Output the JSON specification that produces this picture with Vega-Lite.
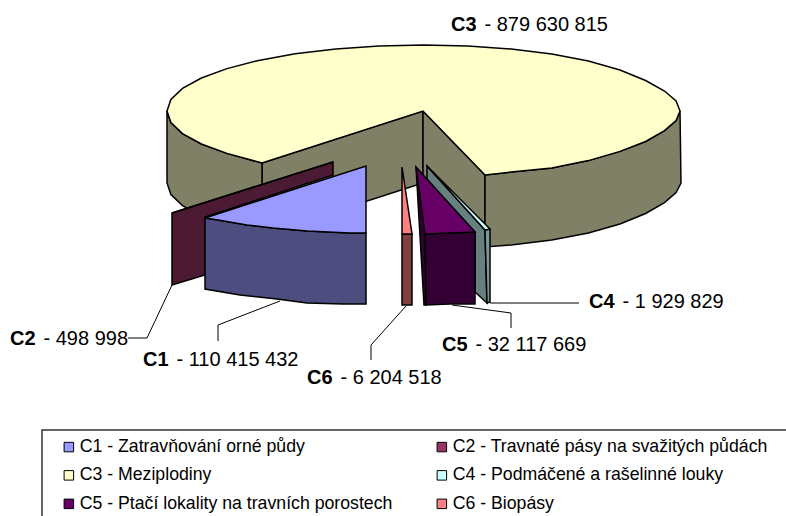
{
"$schema":"https://vega.github.io/schema/vega-lite/v6.json",
"width":786,"height":516,"padding":0,"autosize":{"type":"none"},
"background":"white",
"config":{"view":{"stroke":null}},
"encoding":{
 "x":{"field":"x","type":"quantitative","scale":{"domain":[0,786],"nice":false,"zero":false},"axis":null},
 "y":{"field":"y","type":"quantitative","scale":{"domain":[0,516],"reverse":true,"nice":false,"zero":false},"axis":null}
},
"datasets":{
"sides":[
{"p":"w1","h":"#808066","o":1,"x":262,"y":163},{"p":"w1","h":"#808066","o":2,"x":423,"y":111},{"p":"w1","h":"#808066","o":3,"x":423,"y":183},{"p":"w1","h":"#808066","o":4,"x":262,"y":235},
{"p":"w2","h":"#808066","o":1,"x":423,"y":111},{"p":"w2","h":"#808066","o":2,"x":485,"y":175},{"p":"w2","h":"#808066","o":3,"x":485,"y":247},{"p":"w2","h":"#808066","o":4,"x":423,"y":183},
{"p":"r","h":"#808066","o":1,"x":485,"y":175},{"p":"r","h":"#808066","o":2,"x":511.2,"y":172},{"p":"r","h":"#808066","o":3,"x":551.8,"y":168},{"p":"r","h":"#808066","o":4,"x":588.4,"y":160.6},{"p":"r","h":"#808066","o":5,"x":620,"y":151.4},{"p":"r","h":"#808066","o":6,"x":645.6,"y":141.5},{"p":"r","h":"#808066","o":7,"x":664.5,"y":130.6},{"p":"r","h":"#808066","o":8,"x":676.1,"y":120.5},{"p":"r","h":"#808066","o":9,"x":680,"y":111},{"p":"r","h":"#808066","o":10,"x":681,"y":183},{"p":"r","h":"#808066","o":11,"x":676.1,"y":192.5},{"p":"r","h":"#808066","o":12,"x":664.5,"y":202.6},{"p":"r","h":"#808066","o":13,"x":645.6,"y":213.5},{"p":"r","h":"#808066","o":14,"x":620,"y":224},{"p":"r","h":"#808066","o":15,"x":588.4,"y":233},{"p":"r","h":"#808066","o":16,"x":551.8,"y":240},{"p":"r","h":"#808066","o":17,"x":511.2,"y":245},{"p":"r","h":"#808066","o":18,"x":485,"y":247},
{"p":"l","h":"#808066","o":1,"x":167,"y":111},{"p":"l","h":"#808066","o":2,"x":170.9,"y":122.5},{"p":"l","h":"#808066","o":3,"x":182.5,"y":133.6},{"p":"l","h":"#808066","o":4,"x":201.4,"y":144},{"p":"l","h":"#808066","o":5,"x":227,"y":153.4},{"p":"l","h":"#808066","o":6,"x":262,"y":163},{"p":"l","h":"#808066","o":7,"x":262,"y":235},{"p":"l","h":"#808066","o":8,"x":227,"y":225.4},{"p":"l","h":"#808066","o":9,"x":201.4,"y":216},{"p":"l","h":"#808066","o":10,"x":182.5,"y":205.6},{"p":"l","h":"#808066","o":11,"x":170.9,"y":194.5},{"p":"l","h":"#808066","o":12,"x":167,"y":183},
{"p":"c2","h":"#4D1A33","o":1,"x":172,"y":213},{"p":"c2","h":"#4D1A33","o":2,"x":333,"y":162},{"p":"c2","h":"#4D1A33","o":3,"x":333,"y":175},{"p":"c2","h":"#4D1A33","o":4,"x":205,"y":217},{"p":"c2","h":"#4D1A33","o":5,"x":205,"y":275},{"p":"c2","h":"#4D1A33","o":6,"x":172,"y":285},
{"p":"c1","h":"#4D4D80","o":1,"x":205,"y":218},{"p":"c1","h":"#4D4D80","o":2,"x":218,"y":220},{"p":"c1","h":"#4D4D80","o":3,"x":247,"y":225},{"p":"c1","h":"#4D4D80","o":4,"x":273,"y":228},{"p":"c1","h":"#4D4D80","o":5,"x":307,"y":231},{"p":"c1","h":"#4D4D80","o":6,"x":350,"y":233},{"p":"c1","h":"#4D4D80","o":7,"x":366,"y":233},{"p":"c1","h":"#4D4D80","o":8,"x":366,"y":304},{"p":"c1","h":"#4D4D80","o":9,"x":343,"y":304},{"p":"c1","h":"#4D4D80","o":10,"x":307,"y":303},{"p":"c1","h":"#4D4D80","o":11,"x":277,"y":299},{"p":"c1","h":"#4D4D80","o":12,"x":240,"y":295},{"p":"c1","h":"#4D4D80","o":13,"x":205,"y":289},
{"p":"c4a","h":"#668080","o":1,"x":427,"y":166},{"p":"c4a","h":"#668080","o":2,"x":485,"y":230},{"p":"c4a","h":"#668080","o":3,"x":487,"y":303},{"p":"c4a","h":"#668080","o":4,"x":475,"y":292},{"p":"c4a","h":"#668080","o":5,"x":475,"y":232},{"p":"c4a","h":"#668080","o":6,"x":427,"y":180},
{"p":"c4b","h":"#7A9A9A","o":1,"x":485,"y":230},{"p":"c4b","h":"#7A9A9A","o":2,"x":490,"y":229},{"p":"c4b","h":"#7A9A9A","o":3,"x":490,"y":302},{"p":"c4b","h":"#7A9A9A","o":4,"x":487,"y":303},
{"p":"c5a","h":"#330033","o":1,"x":416,"y":167},{"p":"c5a","h":"#330033","o":2,"x":425,"y":234},{"p":"c5a","h":"#330033","o":3,"x":426,"y":305},{"p":"c5a","h":"#330033","o":4,"x":424,"y":305},
{"p":"c5b","h":"#330033","o":1,"x":425,"y":234},{"p":"c5b","h":"#330033","o":2,"x":475,"y":232},{"p":"c5b","h":"#330033","o":3,"x":475,"y":304},{"p":"c5b","h":"#330033","o":4,"x":450,"y":304},{"p":"c5b","h":"#330033","o":5,"x":426,"y":305},
{"p":"c6","h":"#804040","o":1,"x":402,"y":234},{"p":"c6","h":"#804040","o":2,"x":412,"y":234},{"p":"c6","h":"#804040","o":3,"x":412,"y":305},{"p":"c6","h":"#804040","o":4,"x":402,"y":305}
],
"tops":[
{"p":"C3","s":"C3 - Meziplodiny","o":1,"x":680,"y":111},{"p":"C3","s":"C3 - Meziplodiny","o":2,"x":676.1,"y":101},{"p":"C3","s":"C3 - Meziplodiny","o":3,"x":664.5,"y":91},{"p":"C3","s":"C3 - Meziplodiny","o":4,"x":645.6,"y":80.5},{"p":"C3","s":"C3 - Meziplodiny","o":5,"x":620,"y":70},{"p":"C3","s":"C3 - Meziplodiny","o":6,"x":588.4,"y":61},{"p":"C3","s":"C3 - Meziplodiny","o":7,"x":551.8,"y":54},{"p":"C3","s":"C3 - Meziplodiny","o":8,"x":511.2,"y":49},{"p":"C3","s":"C3 - Meziplodiny","o":9,"x":468,"y":46},{"p":"C3","s":"C3 - Meziplodiny","o":10,"x":423.5,"y":45},{"p":"C3","s":"C3 - Meziplodiny","o":11,"x":379,"y":46},{"p":"C3","s":"C3 - Meziplodiny","o":12,"x":335.8,"y":49},{"p":"C3","s":"C3 - Meziplodiny","o":13,"x":295.2,"y":53.8},{"p":"C3","s":"C3 - Meziplodiny","o":14,"x":258.6,"y":60.4},{"p":"C3","s":"C3 - Meziplodiny","o":15,"x":227,"y":68.6},{"p":"C3","s":"C3 - Meziplodiny","o":16,"x":201.4,"y":78},{"p":"C3","s":"C3 - Meziplodiny","o":17,"x":182.5,"y":88.4},{"p":"C3","s":"C3 - Meziplodiny","o":18,"x":170.9,"y":99.5},{"p":"C3","s":"C3 - Meziplodiny","o":19,"x":167,"y":111},{"p":"C3","s":"C3 - Meziplodiny","o":20,"x":170.9,"y":122.5},{"p":"C3","s":"C3 - Meziplodiny","o":21,"x":182.5,"y":133.6},{"p":"C3","s":"C3 - Meziplodiny","o":22,"x":201.4,"y":144},{"p":"C3","s":"C3 - Meziplodiny","o":23,"x":227,"y":153.4},{"p":"C3","s":"C3 - Meziplodiny","o":24,"x":262,"y":163},{"p":"C3","s":"C3 - Meziplodiny","o":25,"x":423,"y":111},{"p":"C3","s":"C3 - Meziplodiny","o":26,"x":485,"y":175},{"p":"C3","s":"C3 - Meziplodiny","o":27,"x":511.2,"y":172},{"p":"C3","s":"C3 - Meziplodiny","o":28,"x":551.8,"y":168},{"p":"C3","s":"C3 - Meziplodiny","o":29,"x":588.4,"y":160.6},{"p":"C3","s":"C3 - Meziplodiny","o":30,"x":620,"y":151.4},{"p":"C3","s":"C3 - Meziplodiny","o":31,"x":645.6,"y":141.5},{"p":"C3","s":"C3 - Meziplodiny","o":32,"x":664.5,"y":130.6},{"p":"C3","s":"C3 - Meziplodiny","o":33,"x":676.1,"y":120.5},
{"p":"C2","s":"C2 - Travnaté pásy na svažitých půdách","o":1,"x":172,"y":213},{"p":"C2","s":"C2 - Travnaté pásy na svažitých půdách","o":2,"x":333,"y":162},
{"p":"C1","s":"C1 - Zatravňování orné půdy","o":1,"x":205,"y":218},{"p":"C1","s":"C1 - Zatravňování orné půdy","o":2,"x":366,"y":166},{"p":"C1","s":"C1 - Zatravňování orné půdy","o":3,"x":366,"y":233},{"p":"C1","s":"C1 - Zatravňování orné půdy","o":4,"x":350,"y":233},{"p":"C1","s":"C1 - Zatravňování orné půdy","o":5,"x":307,"y":231},{"p":"C1","s":"C1 - Zatravňování orné půdy","o":6,"x":273,"y":228},{"p":"C1","s":"C1 - Zatravňování orné půdy","o":7,"x":247,"y":225},{"p":"C1","s":"C1 - Zatravňování orné půdy","o":8,"x":218,"y":220},
{"p":"C4","s":"C4 - Podmáčené a rašelinné louky","o":1,"x":427,"y":166},{"p":"C4","s":"C4 - Podmáčené a rašelinné louky","o":2,"x":490,"y":229},{"p":"C4","s":"C4 - Podmáčené a rašelinné louky","o":3,"x":485,"y":230},
{"p":"C5","s":"C5 - Ptačí lokality na travních porostech","o":1,"x":416,"y":167},{"p":"C5","s":"C5 - Ptačí lokality na travních porostech","o":2,"x":475,"y":232},{"p":"C5","s":"C5 - Ptačí lokality na travních porostech","o":3,"x":425,"y":234},
{"p":"C6","s":"C6 - Biopásy","o":1,"x":402,"y":167},{"p":"C6","s":"C6 - Biopásy","o":2,"x":412,"y":234},{"p":"C6","s":"C6 - Biopásy","o":3,"x":402,"y":234}
],
"leaders":[
{"p":"C2","o":1,"x":128,"y":338},{"p":"C2","o":2,"x":147,"y":338},{"p":"C2","o":3,"x":172,"y":285},
{"p":"C1","o":1,"x":218,"y":341},{"p":"C1","o":2,"x":218,"y":325},{"p":"C1","o":3,"x":280,"y":301},
{"p":"C6","o":1,"x":371,"y":360},{"p":"C6","o":2,"x":371,"y":345},{"p":"C6","o":3,"x":406,"y":306},
{"p":"C5","o":1,"x":511,"y":328},{"p":"C5","o":2,"x":511,"y":313},{"p":"C5","o":3,"x":452,"y":305},
{"p":"C4","o":1,"x":579,"y":303},{"p":"C4","o":2,"x":490,"y":303}
],
"frame":[
{"o":1,"x":42,"y":516},{"o":2,"x":42,"y":430},{"o":3,"x":786,"y":430}
],
"boldLabels":[
{"t":"C3","x":451,"y":25},{"t":"C4","x":589,"y":302},{"t":"C5","x":442,"y":345},{"t":"C2","x":10,"y":339},{"t":"C1","x":143,"y":360},{"t":"C6","x":307,"y":378}
],
"plainLabels":[
{"t":"- 879 630 815","x":484.5,"y":25},{"t":"- 1 929 829","x":622.5,"y":302},{"t":"- 32 117 669","x":475.5,"y":345},{"t":"- 498 998","x":43.5,"y":339},{"t":"- 110 415 432","x":176.5,"y":360},{"t":"- 6 204 518","x":340.5,"y":378}
]
},
"layer":[
{"data":{"name":"sides"},"mark":{"type":"line","interpolate":"linear-closed","stroke":"black","strokeWidth":1.5},
 "encoding":{"order":{"field":"o","type":"quantitative"},"detail":{"field":"p"},"fill":{"field":"h","type":"nominal","scale":null}}},
{"data":{"name":"tops"},"mark":{"type":"line","interpolate":"linear-closed","stroke":"black","strokeWidth":1.5},
 "encoding":{"order":{"field":"o","type":"quantitative"},"detail":{"field":"p"},
  "fill":{"field":"s","type":"nominal","scale":{"domain":["C1 - Zatravňování orné půdy","C3 - Meziplodiny","C5 - Ptačí lokality na travních porostech","C2 - Travnaté pásy na svažitých půdách","C4 - Podmáčené a rašelinné louky","C6 - Biopásy"],"range":["#9999FF","#FFFFCC","#660066","#993366","#CCFFFF","#FF8080"]},
   "legend":{"title":null,"orient":"none","legendX":60,"legendY":438,"columns":2,"symbolType":"square","symbolSize":90,"symbolStrokeColor":"black","symbolStrokeWidth":1,"symbolOpacity":1,"labelFont":"Liberation Sans","labelFontSize":17.7,"labelColor":"black","labelLimit":500,"labelOffset":2,"rowPadding":9.5,"columnPadding":40,"padding":0,"gridAlign":"each"}}}},
{"data":{"name":"leaders"},"mark":{"type":"line","stroke":"black","strokeWidth":1},
 "encoding":{"order":{"field":"o","type":"quantitative"},"detail":{"field":"p"}}},
{"data":{"name":"frame"},"mark":{"type":"line","stroke":"#333333","strokeWidth":1.5},
 "encoding":{"order":{"field":"o","type":"quantitative"}}},
{"data":{"name":"boldLabels"},"mark":{"type":"text","align":"left","baseline":"middle","font":"Liberation Sans","fontSize":20,"fontWeight":"bold","color":"black"},"encoding":{"text":{"field":"t"}}},
{"data":{"name":"plainLabels"},"mark":{"type":"text","align":"left","baseline":"middle","font":"Liberation Sans","fontSize":20,"color":"black"},"encoding":{"text":{"field":"t"}}}
]
}
